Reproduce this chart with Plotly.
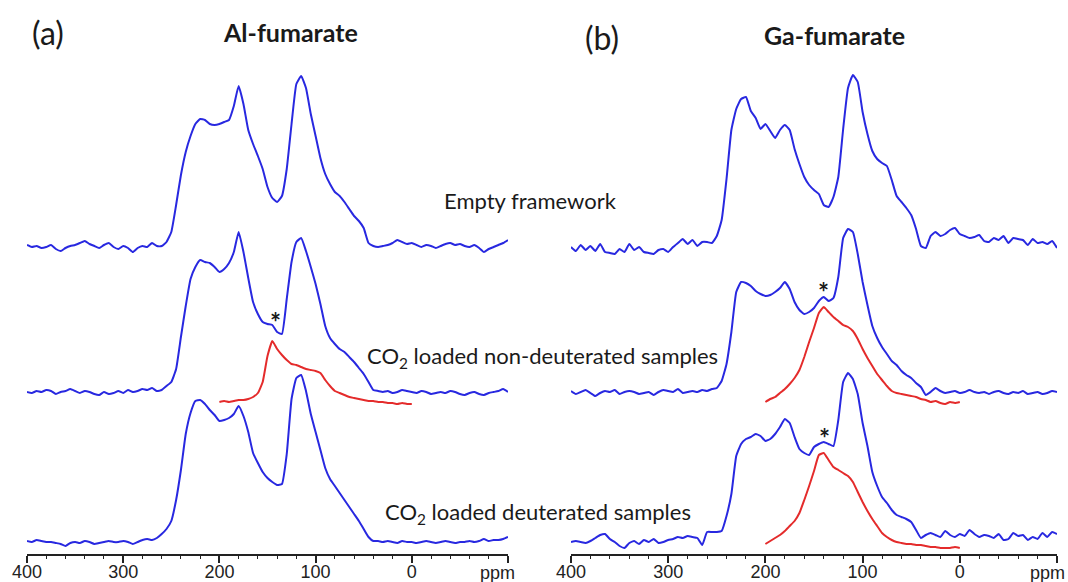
import plotly.graph_objects as go

# chemical-shift grids (ppm)
ppm_blue = list(range(400, -101, -5))
ppm_red = list(range(200, -1, -5))

# ---- Al-fumarate (panel a), baseline-subtracted intensities (a.u.) ----
al_empty = [-1, -3, -2, -4, -3, -1, -5, -7, -4, -2, -1, 1, 3, 0, -2, -4, -1, 1, -3, -5, -2, -4, -8, -4, -2, -3, 1, -2,
            -2, 2, 12, 39, 69, 92, 108, 120, 125, 124, 120, 119, 120, 122, 124, 138, 158, 140, 114, 100, 88, 75, 57, 46,
            42, 48, 75, 120, 160, 168, 156, 130, 108, 86, 70, 60, 52, 48, 42, 35, 28, 23, 16, 1, -2, -3,
            -2, -1, 1, 4, 2, 0, 1, -1, -3, -1, -2, -4, -2, 0, 1, -1, 0, -2, -3, -1, -4, -8, -5, -3, -1, 1, 4]
al_nondeut = [-1, -2, 0, -1, 1, 0, -3, -1, 0, 2, 0, -2, 0, -1, -3, -4, -1, -3, -2, 0, -2, 1, -1, 0, 2, 1, 3, 0,
              1, 5, 9, 22, 54, 85, 112, 124, 131, 129, 128, 124, 119, 122, 128, 139, 159, 139, 113, 89, 77, 69, 67, 66,
              59, 57, 92, 129, 149, 153, 140, 124, 107, 87, 65, 53, 47, 42, 39, 34, 29, 23, 17, 9, 1, 0,
              -1, 0, -2, -1, 1, 0, -1, -2, 0, -1, -3, -2, -1, -2, 0, -1, -3, -4, -2, -1, -3, -4, -2, -1, 0, 2, -1]
al_deut = [0, -1, 1, 0, -1, -1, -2, -3, -5, -2, -1, -2, 0, -1, -3, -2, -1, 0, -1, -1, 0, -1, -3, -1, 1, 2, 1, 3,
           7, 12, 20, 41, 71, 107, 128, 140, 141, 137, 131, 126, 120, 121, 123, 127, 135, 125, 109, 88, 78, 69, 63, 59,
           56, 57, 87, 142, 163, 166, 150, 127, 109, 91, 73, 62, 55, 48, 41, 34, 27, 20, 12, 4, 0, 0,
           -1, 0, -1, -2, 0, -1, -1, -2, -1, 0, -1, -2, -1, 0, -1, -2, -1, -1, 0, -1, 0, 2, 0, 1, 1, 2, 4]
al_co2_nondeut = [1, 2, 1, 2, 3, 3, 4, 6, 10, 21, 47, 62, 54, 48, 43, 39, 38, 36, 34, 33, 32, 30, 23, 17, 12, 10, 8,
                  6, 5, 4, 3, 2, 2, 1, 1, 0, 0, -1, 0, -1, -1]

# ---- Ga-fumarate (panel b) ----
ga_empty = [-5, -9, -3, -8, -4, -9, -2, -10, -11, -12, -7, -10, -2, -8, -5, -10, -11, -12, -8, -7, -10, -5, -1, 3, -2, 2, -4, 0,
            0, -1, 6, 22, 63, 112, 133, 143, 145, 131, 124, 113, 118, 111, 104, 112, 117, 112, 93, 78, 65, 57, 52, 48,
            37, 35, 45, 65, 113, 154, 167, 160, 130, 108, 91, 83, 79, 76, 62, 46, 40, 34, 27, 13, -4, -6,
            6, 10, 6, 8, 12, 14, 8, 6, 4, 5, 7, 1, 0, 4, 2, 6, -1, 4, 3, 2, -3, 3, -1, 0, -2, 1, -6]
ga_nondeut = [1, -2, 0, 2, -1, -4, -1, 1, 0, 2, -2, 0, 1, 0, -2, -1, 0, -3, 0, 2, 1, 0, 3, -1, 0, 1, 0, 2,
              1, 3, 4, 11, 28, 60, 100, 110, 109, 106, 101, 98, 96, 97, 100, 104, 110, 103, 90, 82, 78, 80, 84, 91,
              95, 91, 94, 115, 154, 163, 160, 138, 110, 87, 66, 54, 45, 38, 31, 27, 21, 17, 14, 9, 5, -3,
              0, 4, 1, -1, 0, 1, -1, 0, 2, 0, -1, 0, -2, 0, 1, -1, -2, 0, -1, 1, -2, -1, 0, -2, -1, 1, 0]
ga_deut = [-5, -4, -5, -6, -4, -1, 2, 3, -2, -5, -9, -11, -6, -4, -7, -3, -5, -2, -6, -5, -3, -2, 0, -1, 1, 0, -1, -8,
           5, 5, 5, 6, 21, 43, 81, 93, 98, 100, 103, 101, 96, 98, 103, 110, 118, 114, 100, 88, 84, 82, 90, 93,
           95, 93, 91, 117, 155, 164, 158, 143, 114, 91, 65, 51, 40, 34, 27, 22, 20, 18, 15, 7, -1, 2,
           4, 2, 0, 6, 2, 0, 3, 1, 7, 3, 0, 2, 1, -1, 3, -3, -2, 4, 1, 2, -3, 0, -2, 4, 0, 5, 3]
ga_co2_nondeut = [0, 3, 5, 9, 13, 18, 24, 32, 45, 60, 74, 89, 95, 90, 85, 81, 77, 75, 71, 63, 53, 44, 36, 28, 22, 16, 11,
                  9, 8, 7, 6, 5, 3, 2, 0, 1, -1, -2, 0, -1, 0]
ga_co2_deut = [3, 6, 9, 12, 16, 21, 26, 34, 47, 61, 76, 92, 94, 87, 80, 77, 74, 71, 65, 55, 45, 36, 28, 21, 14, 10, 7,
               5, 4, 3, 3, 2, 2, 1, 0, 0, -1, -1, -1, 0, -1]

# axis ticks
tick_vals = [400, 300, 200, 100, 0, -100]
tick_text = ["400", "300", "200", "100", "0", ""]
unit_label = "ppm"

# stacking offsets (display)
OFF_A = {"empty": 310, "nondeut": 163, "deut": 13, "co2_nondeut": 151}
OFF_B = {"empty": 312, "nondeut": 162, "deut": 17, "co2_nondeut": 152, "co2_deut": 7}

BLUE = "#2828e0"
RED = "#e42b2b"
W, H = 1068, 582
BOT = 28
PH = H - BOT

fig = go.Figure()


def add(x, vals, off, color, xa, ya):
    fig.add_trace(go.Scatter(x=x, y=[v + off for v in vals], mode="lines",
                             line=dict(color=color, width=2, shape="spline", smoothing=0.4),
                             xaxis=xa, yaxis=ya, showlegend=False, hoverinfo="skip"))


add(ppm_blue, al_empty, OFF_A["empty"], BLUE, "x", "y")
add(ppm_blue, al_nondeut, OFF_A["nondeut"], BLUE, "x", "y")
add(ppm_blue, al_deut, OFF_A["deut"], BLUE, "x", "y")
add(ppm_red, al_co2_nondeut, OFF_A["co2_nondeut"], RED, "x", "y")

add(ppm_blue, ga_empty, OFF_B["empty"], BLUE, "x2", "y2")
add(ppm_blue, ga_nondeut, OFF_B["nondeut"], BLUE, "x2", "y2")
add(ppm_blue, ga_deut, OFF_B["deut"], BLUE, "x2", "y2")
add(ppm_red, ga_co2_nondeut, OFF_B["co2_nondeut"], RED, "x2", "y2")
add(ppm_red, ga_co2_deut, OFF_B["co2_deut"], RED, "x2", "y2")

TICKFONT = dict(family="Liberation Sans, Arial", size=18, color="#222")
xcommon = dict(range=[400, -100], tickvals=tick_vals, ticktext=tick_text, automargin=False,
               showline=True, linecolor="#222", linewidth=1.5, showgrid=False, zeroline=False,
               ticks="outside", ticklen=7, tickwidth=1.5, tickcolor="#222", ticklabelstandoff=-6,
               minor=dict(dtick=20, tick0=0, ticks="outside", ticklen=3.5, tickwidth=1.2, tickcolor="#222",
                          showgrid=False),
               tickfont=TICKFONT, fixedrange=True)
ycommon = dict(range=[0, PH], visible=False, fixedrange=True, automargin=False)

fig.update_layout(
    width=W, height=H, margin=dict(l=0, r=0, t=0, b=BOT, autoexpand=False),
    paper_bgcolor="white", plot_bgcolor="white",
    xaxis=dict(domain=[27 / W, 508 / W], anchor="y", **xcommon),
    yaxis=dict(domain=[0, 1], anchor="x", **ycommon),
    xaxis2=dict(domain=[571 / W, 1057 / W], anchor="y2", **xcommon),
    yaxis2=dict(domain=[0, 1], anchor="x2", **ycommon),
)


def note(text, px, py, size, bold=False, font=None):
    t = "<b>%s</b>" % text if bold else text
    f = font or dict(family="Lato, Carlito, sans-serif", size=size, color="#1a1a1a")
    fig.add_annotation(x=px / W, y=(PH - py) / PH, xref="paper", yref="paper", text=t, showarrow=False,
                       xanchor="center", yanchor="middle", font=f)


note("(a)", 48, 33, 32)
note("Al-fumarate", 290, 32, 25, bold=True)
note("(b)", 602, 38, 32)
note("Ga-fumarate", 834, 35, 25, bold=True)
note("Empty framework", 530, 200, 22)
note("CO<sub>2</sub> loaded non-deuterated samples", 542, 357, 22)
note("CO<sub>2</sub> loaded deuterated samples", 538, 513, 22)
note("*", 275, 322, 26, bold=True)
note("*", 823, 292, 26, bold=True)
note("*", 824, 438, 26, bold=True)
note(unit_label, 498, 573, 18, font=TICKFONT)
note(unit_label, 1047, 573, 18, font=TICKFONT)

fig.write_html("out.html", config={"displayModeBar": False},
               post_script="document.body.style.margin='0';document.body.style.padding='0';")
